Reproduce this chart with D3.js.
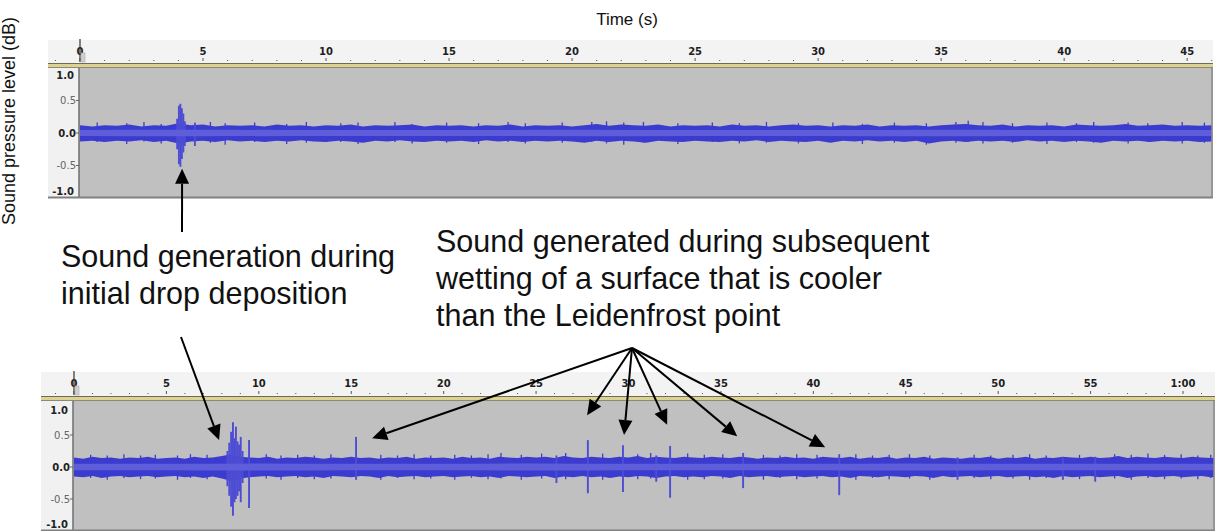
<!DOCTYPE html>
<html>
<head>
<meta charset="utf-8">
<script src="https://cdn.jsdelivr.net/npm/d3@7"></script>
<style>
  html, body { margin: 0; padding: 0; background: #ffffff; }
  svg { display: block; }
</style>
</head>
<body>
<svg id="chart" width="1215" height="531"></svg>
<script>
// ---------- Data ----------
// Recording 1 (drop deposition): peak envelope every 0.5 s
const envStep = 0.5;
const topUpper = [
  0.12,0.10,0.12,0.11,0.13,0.10,0.12,0.11,0.15,0.12,
  0.13,0.10,0.12,0.11,0.12,0.10,0.13,0.11,0.12,0.10,
  0.12,0.11,0.13,0.10,0.12,0.11,0.12,0.13,0.10,0.12,
  0.11,0.12,0.10,0.12,0.11,0.13,0.10,0.12,0.11,0.12,
  0.10,0.12,0.14,0.11,0.13,0.12,0.11,0.13,0.10,0.12,
  0.11,0.12,0.10,0.13,0.11,0.12,0.10,0.12,0.13,0.11,
  0.12,0.10,0.12,0.11,0.13,0.10,0.12,0.11,0.12,0.10,
  0.12,0.13,0.14,0.12,0.11,0.13,0.10,0.12,0.11,0.12,
  0.10,0.13,0.12,0.11,0.12,0.14,0.11,0.12,0.13,0.11,
  0.12,0.11,0.12
];
const topLower = [
  -0.13,-0.12,-0.14,-0.12,-0.13,-0.11,-0.14,-0.12,-0.16,-0.13,
  -0.12,-0.14,-0.11,-0.13,-0.12,-0.14,-0.12,-0.13,-0.11,-0.13,
  -0.14,-0.12,-0.13,-0.15,-0.12,-0.13,-0.11,-0.13,-0.14,-0.12,
  -0.13,-0.12,-0.14,-0.11,-0.13,-0.12,-0.14,-0.12,-0.13,-0.12,
  -0.13,-0.15,-0.12,-0.14,-0.12,-0.13,-0.15,-0.12,-0.13,-0.14,
  -0.12,-0.13,-0.14,-0.12,-0.13,-0.11,-0.14,-0.12,-0.13,-0.14,
  -0.12,-0.15,-0.12,-0.13,-0.11,-0.13,-0.12,-0.14,-0.12,-0.16,
  -0.13,-0.12,-0.14,-0.12,-0.13,-0.12,-0.14,-0.11,-0.13,-0.12,
  -0.14,-0.12,-0.13,-0.15,-0.12,-0.13,-0.12,-0.14,-0.12,-0.13,
  -0.12,-0.14,-0.13
];
// RMS level every 5 s
const rmsStep = 5;
const topRms = [0.045,0.05,0.045,0.045,0.05,0.045,0.045,0.05,0.045,0.045,0.045];
// Short bursts of background noise: [time (s), max, min]
const topNoise = [
  [0.7,0.16,-0.14],[1.9,0.15,-0.17],[2.6,0.17,-0.13],[3.3,0.14,-0.16],[5.3,0.17,-0.15],
  [5.9,0.15,-0.18],[7.1,0.16,-0.14],[8.4,0.14,-0.17],[9.2,0.17,-0.15],[10.6,0.15,-0.14],
  [11.3,0.16,-0.17],[12.8,0.17,-0.14],[13.5,0.14,-0.16],[14.9,0.16,-0.15],[16.2,0.15,-0.17],
  [17.4,0.17,-0.14],[18.1,0.15,-0.16],[19.6,0.16,-0.15],[20.8,0.17,-0.14],[21.4,0.18,-0.16],
  [22.1,0.16,-0.18],[22.9,0.17,-0.15],[24.3,0.15,-0.17],[25.7,0.16,-0.14],[26.8,0.15,-0.16],
  [27.9,0.17,-0.15],[29.2,0.15,-0.16],[30.6,0.16,-0.14],[31.8,0.14,-0.17],[33.1,0.16,-0.15],
  [34.4,0.15,-0.18],[35.6,0.17,-0.15],[36.1,0.19,-0.14],[36.7,0.17,-0.16],[37.9,0.15,-0.15],
  [39.3,0.16,-0.17],[40.5,0.15,-0.14],[41.2,0.17,-0.15],[42.6,0.16,-0.16],[43.4,0.15,-0.14],
  [44.8,0.17,-0.16],[45.7,0.16,-0.15]
];
// Transient events: [time (s), max, min]
const topEvents = [
  [3.95, 0.22, -0.25],
  [4.02, 0.42, -0.48],
  [4.08, 0.45, -0.52],
  [4.14, 0.38, -0.40],
  [4.20, 0.30, -0.30],
  [4.26, 0.18, -0.20],
  [4.67, 0.16, -0.20]
];

// Recording 2 (subsequent wetting)
const botUpper = [
  0.15,0.13,0.16,0.14,0.15,0.13,0.15,0.14,0.16,0.13,
  0.14,0.15,0.13,0.16,0.14,0.15,0.17,0.20,0.16,0.15,
  0.14,0.16,0.13,0.15,0.14,0.16,0.15,0.13,0.15,0.14,
  0.16,0.14,0.15,0.13,0.15,0.14,0.16,0.13,0.15,0.14,
  0.15,0.13,0.16,0.14,0.15,0.13,0.16,0.15,0.14,0.16,
  0.15,0.16,0.14,0.17,0.15,0.14,0.16,0.15,0.14,0.16,
  0.15,0.17,0.14,0.16,0.15,0.14,0.16,0.15,0.14,0.16,
  0.15,0.14,0.16,0.15,0.13,0.15,0.14,0.16,0.14,0.15,
  0.13,0.16,0.15,0.14,0.16,0.13,0.15,0.14,0.16,0.13,
  0.15,0.14,0.16,0.13,0.15,0.14,0.13,0.15,0.14,0.16,
  0.13,0.15,0.14,0.16,0.13,0.15,0.14,0.16,0.15,0.14,
  0.16,0.14,0.15,0.17,0.14,0.16,0.15,0.14,0.16,0.15,
  0.14,0.16,0.15,0.14,0.15
];
const botLower = [
  -0.15,-0.16,-0.14,-0.17,-0.15,-0.14,-0.16,-0.15,-0.14,-0.16,
  -0.15,-0.14,-0.16,-0.15,-0.17,-0.15,-0.18,-0.22,-0.18,-0.16,
  -0.15,-0.14,-0.16,-0.15,-0.14,-0.16,-0.15,-0.17,-0.14,-0.15,
  -0.16,-0.14,-0.15,-0.17,-0.14,-0.16,-0.15,-0.14,-0.16,-0.15,
  -0.14,-0.16,-0.15,-0.14,-0.16,-0.15,-0.17,-0.14,-0.15,-0.16,
  -0.15,-0.14,-0.17,-0.15,-0.16,-0.14,-0.16,-0.15,-0.17,-0.15,
  -0.16,-0.14,-0.15,-0.17,-0.15,-0.14,-0.16,-0.15,-0.16,-0.14,
  -0.15,-0.17,-0.14,-0.16,-0.15,-0.14,-0.16,-0.15,-0.14,-0.16,
  -0.15,-0.14,-0.16,-0.15,-0.17,-0.14,-0.15,-0.16,-0.14,-0.15,
  -0.16,-0.14,-0.15,-0.17,-0.14,-0.16,-0.15,-0.14,-0.16,-0.15,
  -0.14,-0.16,-0.15,-0.14,-0.16,-0.15,-0.17,-0.14,-0.16,-0.15,
  -0.14,-0.16,-0.15,-0.14,-0.17,-0.15,-0.14,-0.16,-0.15,-0.14,
  -0.16,-0.15,-0.14,-0.16,-0.15
];
const botRms = [0.05,0.05,0.055,0.05,0.05,0.055,0.05,0.05,0.05,0.055,0.05,0.05,0.05,0.05];
const botNoise = [
  [0.9,0.19,-0.17],[1.8,0.18,-0.20],[2.7,0.20,-0.17],[3.6,0.18,-0.19],[4.4,0.19,-0.18],
  [5.6,0.18,-0.20],[6.3,0.20,-0.17],[7.2,0.19,-0.19],[10.4,0.20,-0.18],[11.2,0.18,-0.20],
  [12.1,0.19,-0.17],[13.0,0.18,-0.19],[13.9,0.20,-0.18],[16.6,0.19,-0.20],[17.5,0.18,-0.17],
  [18.4,0.20,-0.19],[19.3,0.18,-0.18],[20.6,0.19,-0.20],[21.5,0.18,-0.17],[22.4,0.20,-0.19],
  [23.1,0.22,-0.18],[24.2,0.19,-0.20],[25.3,0.21,-0.18],[26.6,0.22,-0.19],[28.6,0.21,-0.20],
  [30.5,0.20,-0.19],[31.2,0.22,-0.18],[33.2,0.21,-0.20],[34.1,0.19,-0.19],[35.1,0.20,-0.18],
  [37.3,0.19,-0.20],[38.2,0.18,-0.17],[39.1,0.20,-0.19],[40.2,0.19,-0.18],[42.3,0.20,-0.20],
  [43.2,0.18,-0.17],[44.1,0.19,-0.19],[45.2,0.20,-0.18],[46.3,0.18,-0.20],[48.7,0.19,-0.17],
  [49.6,0.18,-0.19],[50.8,0.19,-0.18],[51.7,0.20,-0.20],[52.6,0.18,-0.17],[54.4,0.19,-0.19],
  [56.3,0.20,-0.18],[57.2,0.19,-0.20],[58.1,0.21,-0.17],[59.0,0.19,-0.19],[59.9,0.20,-0.18],
  [60.8,0.18,-0.19],[61.5,0.19,-0.17]
];
const botEvents = [
  [8.30, 0.25, -0.30],
  [8.40, 0.38, -0.45],
  [8.50, 0.55, -0.62],
  [8.60, 0.70, -0.76],
  [8.68, 0.45, -0.55],
  [8.76, 0.63, -0.50],
  [8.85, 0.40, -0.45],
  [8.93, 0.35, -0.38],
  [9.02, 0.47, -0.55],
  [9.12, 0.25, -0.25],
  [9.47, 0.42, -0.64],
  [15.26, 0.47, -0.20],
  [26.10, 0.18, -0.25],
  [27.80, 0.42, -0.41],
  [29.70, 0.34, -0.39],
  [31.50, 0.18, -0.23],
  [32.25, 0.33, -0.48],
  [36.20, 0.22, -0.33],
  [41.40, 0.20, -0.44],
  [47.80, 0.15, -0.20],
  [53.50, 0.15, -0.20],
  [55.25, 0.16, -0.23]
];

// Amplitude axis labels
const ampTicks = [1.0, 0.5, 0.0, -0.5, -1.0];

// Annotation targets: [time (s), amplitude]
const depositionTopTarget = [4.15, -0.55];
const depositionBotTarget = [7.85, 0.42];
const wettingTargets = [
  [16.13, 0.45],
  [27.76, 0.81],
  [29.76, 0.50],
  [32.09, 0.66],
  [35.88, 0.48],
  [40.64, 0.31]
];

const textDeposition = ["Sound generation during", "initial drop deposition"];
const textWetting = ["Sound generated during subsequent", "wetting of a surface that is cooler", "than the Leidenfrost point"];

// ---------- Layout ----------
const svg = d3.select("#chart");

const panels = [
  { id: "top", upper: topUpper, lower: topLower, rms: topRms, noise: topNoise, events: topEvents,
    tMax: 46.05, x0: 80, x1: 1213, left: 48, right: 1213,
    rulerTop: 40, rulerBottom: 63, plotTop: 68, plotBottom: 198, yTop: 68, yBottom: 198 },
  { id: "bot", upper: botUpper, lower: botLower, rms: botRms, noise: botNoise, events: botEvents,
    tMax: 61.73, x0: 74, x1: 1215, left: 41, right: 1215,
    rulerTop: 372, rulerBottom: 396, plotTop: 401, plotBottom: 531, yTop: 403, yBottom: 531 }
];

const defs = svg.append("defs");
const WAVE = "#3b3bd0", RMS = "#5e5edb", SPIKE = "#4c4cd4";

panels.forEach(p => {
  p.x = d3.scaleLinear().domain([0, p.tMax]).range([p.x0, p.x1]);
  p.y = d3.scaleLinear().domain([-1, 1]).range([p.yBottom, p.yTop]);
  const g = svg.append("g").attr("class", "panel-" + p.id);

  // ruler background and left gutter
  g.append("rect").attr("x", p.left).attr("y", p.rulerTop)
    .attr("width", p.right - p.left).attr("height", p.rulerBottom - p.rulerTop)
    .attr("fill", "#f3f3f3");
  g.append("rect").attr("x", p.left).attr("y", p.plotTop)
    .attr("width", p.x0 - 1 - p.left).attr("height", p.plotBottom - p.plotTop)
    .attr("fill", "#f1f1f1");

  // ruler separator (dark / yellow / dark)
  g.append("rect").attr("x", p.left).attr("y", p.rulerBottom).attr("width", p.right - p.left).attr("height", 1).attr("fill", "#6d6a55");
  g.append("rect").attr("x", p.left).attr("y", p.rulerBottom + 1).attr("width", p.right - p.left).attr("height", 3).attr("fill", "#dcd291");
  g.append("rect").attr("x", p.left).attr("y", p.rulerBottom + 4).attr("width", p.right - p.left).attr("height", 1).attr("fill", "#8c8a74");

  // waveform background
  g.append("rect").attr("x", p.x0 - 1).attr("y", p.plotTop)
    .attr("width", p.right - (p.x0 - 1)).attr("height", p.plotBottom - p.plotTop)
    .attr("fill", "#c0c0c0");

  // ruler ticks (1 s minor, 5 s major)
  const ticks = d3.range(-1, Math.floor(p.tMax) + 1, 1);
  const tickG = g.append("g");
  ticks.forEach(t => {
    const xx = p.x(t);
    if (xx < p.left + 2 || xx > p.right - 1) return;
    const major = t % 5 === 0;
    tickG.append("line")
      .attr("x1", xx).attr("x2", xx)
      .attr("y1", p.rulerBottom - (major ? 5 : 3)).attr("y2", p.rulerBottom - 2)
      .attr("stroke", "#555").attr("stroke-width", 1);
    if (major) {
      const label = t >= 60 ? (Math.floor(t / 60) + ":" + String(t % 60).padStart(2, "0")) : String(t);
      tickG.append("text")
        .attr("x", xx).attr("y", p.rulerTop + 15)
        .attr("text-anchor", "middle")
        .attr("font-family", "DejaVu Sans")
        .attr("font-weight", "bold")
        .attr("font-size", 10)
        .attr("fill", "#1e1e1e")
        .text(label);
    }
  });

  // play-head marker at zero
  g.append("line").attr("x1", p.x(0)).attr("x2", p.x(0))
    .attr("y1", p.rulerTop - 1).attr("y2", p.rulerBottom - 1)
    .attr("stroke", "#333").attr("stroke-width", 1.2);
  g.append("rect").attr("x", p.x(0) + 1).attr("y", p.rulerBottom - 10)
    .attr("width", 4).attr("height", 9).attr("fill", "#d0d0d0").attr("stroke", "#aaa").attr("stroke-width", 0.6);

  // amplitude axis
  g.append("line").attr("x1", p.x0 - 1).attr("x2", p.x0 - 1)
    .attr("y1", p.plotTop).attr("y2", p.plotBottom)
    .attr("stroke", "#6e6e6e").attr("stroke-width", 1.5);
  ampTicks.forEach(v => {
    const edge = Math.abs(v) === 1;
    const yy = edge ? (v > 0 ? p.y(v) + 7 : p.y(v) - 7) : p.y(v);
    const strong = v === 0 || edge;
    g.append("text")
      .attr("x", p.x0 - (edge ? 6 : 4)).attr("y", yy)
      .attr("dy", "0.35em")
      .attr("text-anchor", "end")
      .attr("font-family", "DejaVu Sans")
      .attr("font-weight", strong ? "bold" : "normal")
      .attr("font-size", 10)
      .attr("fill", strong ? "#222" : "#666")
      .text(v.toFixed(1));
    if (!edge) {
      g.append("line").attr("x1", p.x0 - 4).attr("x2", p.x0 - 1)
        .attr("y1", p.y(v)).attr("y2", p.y(v))
        .attr("stroke", "#666").attr("stroke-width", 1);
    }
  });

  // clip for waveform
  defs.append("clipPath").attr("id", "clip-" + p.id)
    .append("rect").attr("x", p.x0).attr("y", p.plotTop)
    .attr("width", p.right - p.x0 - 1).attr("height", p.plotBottom - p.plotTop);
  const wave = g.append("g").attr("clip-path", "url(#clip-" + p.id + ")");

  // peak envelope
  const env = p.upper.map((u, i) => ({ t: i * envStep, hi: u, lo: p.lower[i] }));
  wave.append("path").datum(env)
    .attr("d", d3.area().x(d => p.x(d.t)).y0(d => p.y(d.lo)).y1(d => p.y(d.hi)))
    .attr("fill", WAVE);

  // short noise bursts along the envelope edges
  wave.selectAll("line.nz").data(p.noise).join("line")
    .attr("class", "nz")
    .attr("x1", d => p.x(d[0])).attr("x2", d => p.x(d[0]))
    .attr("y1", d => p.y(d[1])).attr("y2", d => p.y(d[2]))
    .attr("stroke", WAVE).attr("stroke-width", 1.3);

  // transient events
  wave.selectAll("line.ev").data(p.events).join("line")
    .attr("class", "ev")
    .attr("x1", d => p.x(d[0])).attr("x2", d => p.x(d[0]))
    .attr("y1", d => p.y(d[1])).attr("y2", d => p.y(d[2]))
    .attr("stroke", SPIKE).attr("stroke-width", 1.9);

  // RMS band
  const rms = p.rms.map((r, i) => ({ t: i * rmsStep, r }));
  wave.append("path").datum(rms)
    .attr("d", d3.area().curve(d3.curveMonotoneX).x(d => p.x(d.t)).y0(d => p.y(-d.r)).y1(d => p.y(d.r)))
    .attr("fill", RMS);

  // panel border
  g.append("line").attr("x1", p.left).attr("x2", p.right)
    .attr("y1", p.plotBottom - 0.5).attr("y2", p.plotBottom - 0.5)
    .attr("stroke", "#808080").attr("stroke-width", 2);
  g.append("line").attr("x1", p.right - 1).attr("x2", p.right - 1)
    .attr("y1", p.plotTop).attr("y2", p.plotBottom)
    .attr("stroke", "#8a8a8a").attr("stroke-width", 1.5);
});

// ---------- Axis titles ----------
svg.append("text")
  .attr("x", 627).attr("y", 25)
  .attr("text-anchor", "middle")
  .attr("font-family", "Liberation Sans, Arial, sans-serif")
  .attr("font-size", 17)
  .attr("fill", "#111")
  .text("Time (s)");

svg.append("text")
  .attr("transform", "translate(15,121) rotate(-90)")
  .attr("text-anchor", "middle")
  .attr("font-family", "Liberation Sans, Arial, sans-serif")
  .attr("font-size", 18)
  .attr("fill", "#111")
  .text("Sound pressure level (dB)");

// ---------- Annotations ----------
const annFont = "Liberation Sans, Arial, sans-serif";
const annSize = 30.5;
const annG = svg.append("g");

function block(lines, x, y0, lh) {
  lines.forEach((s, i) => {
    annG.append("text")
      .attr("x", x).attr("y", y0 + i * lh)
      .attr("font-family", annFont).attr("font-size", annSize)
      .attr("fill", "#111").text(s);
  });
}
block(textDeposition, 61, 267, 37);
block(textWetting, 436, 252, 37);

function arrow(x1, y1, x2, y2) {
  const ang = Math.atan2(y2 - y1, x2 - x1);
  const len = 15, hw = 7;
  const bx = x2 - len * Math.cos(ang), by = y2 - len * Math.sin(ang);
  annG.append("line").attr("x1", x1).attr("y1", y1).attr("x2", bx).attr("y2", by)
    .attr("stroke", "#000").attr("stroke-width", 2);
  const px = -Math.sin(ang) * hw, py = Math.cos(ang) * hw;
  annG.append("path")
    .attr("d", `M${x2},${y2}L${bx + px},${by + py}L${bx - px},${by - py}Z`)
    .attr("fill", "#000");
}

const pt = panels[0], pb = panels[1];
arrow(182, 232, pt.x(depositionTopTarget[0]), pt.y(depositionTopTarget[1]));
arrow(181, 337, pb.x(depositionBotTarget[0]), pb.y(depositionBotTarget[1]));
const fan = [632, 348];
wettingTargets.forEach(d => arrow(fan[0], fan[1], pb.x(d[0]), pb.y(d[1])));
</script>
</body>
</html>
